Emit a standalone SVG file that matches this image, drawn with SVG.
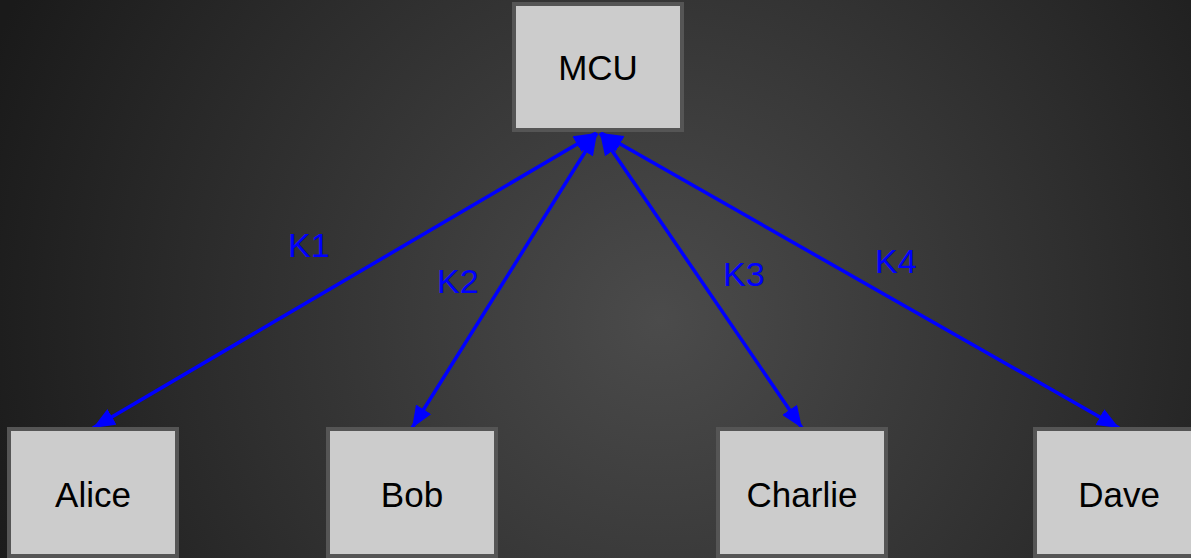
<svg xmlns="http://www.w3.org/2000/svg" width="1191" height="558" viewBox="0 0 1191 558">
  <defs>
    <radialGradient id="bg" gradientUnits="userSpaceOnUse" cx="660" cy="320" r="720">
      <stop offset="0" stop-color="#4b4b4b"/>
      <stop offset="1" stop-color="#1a1a1a"/>
    </radialGradient>
    <marker id="arr" viewBox="0 0 22 18" markerWidth="22" markerHeight="18" refX="22" refY="9" orient="auto-start-reverse" markerUnits="userSpaceOnUse">
      <path d="M0,0 L22,9 L0,18 z" fill="#0000ff"/>
    </marker>
    <style>
      .box { fill: #cccccc; stroke: #555555; stroke-width: 4; }
      .ntext { font-family: "Liberation Sans", Arial, sans-serif; font-size: 35px; fill: #000000; text-anchor: middle; }
      .edge { stroke: #0000ff; stroke-width: 3.5; fill: none; marker-start: url(#arr); marker-end: url(#arr); }
      .elabel { font-family: "Liberation Sans", Arial, sans-serif; font-size: 34px; fill: #0000ff; }
    </style>
  </defs>
  <rect x="0" y="0" width="1191" height="558" fill="url(#bg)"/>

  <g id="connectors">
    <line class="edge" x1="93" y1="428" x2="596" y2="133"/>
    <line class="edge" x1="412" y1="428" x2="597" y2="133"/>
    <line class="edge" x1="802" y1="428" x2="600" y2="133"/>
    <line class="edge" x1="1119" y1="428" x2="601" y2="133"/>
    <text class="elabel" x="288" y="257">K1</text>
    <text class="elabel" x="437" y="293">K2</text>
    <text class="elabel" x="723" y="286">K3</text>
    <text class="elabel" x="875" y="273">K4</text>
  </g>

  <g id="MCU">
    <rect class="box" x="514" y="4" width="168" height="126"/>
    <text class="ntext" x="598" y="80">MCU</text>
  </g>
  <g id="Alice">
    <rect class="box" x="9" y="429" width="168" height="127"/>
    <text class="ntext" x="93" y="507">Alice</text>
  </g>
  <g id="Bob">
    <rect class="box" x="328" y="429" width="168" height="127"/>
    <text class="ntext" x="412" y="507">Bob</text>
  </g>
  <g id="Charlie">
    <rect class="box" x="718" y="429" width="168" height="127"/>
    <text class="ntext" x="802" y="507">Charlie</text>
  </g>
  <g id="Dave">
    <rect class="box" x="1035" y="429" width="168" height="127"/>
    <text class="ntext" x="1119" y="507">Dave</text>
  </g>
</svg>
